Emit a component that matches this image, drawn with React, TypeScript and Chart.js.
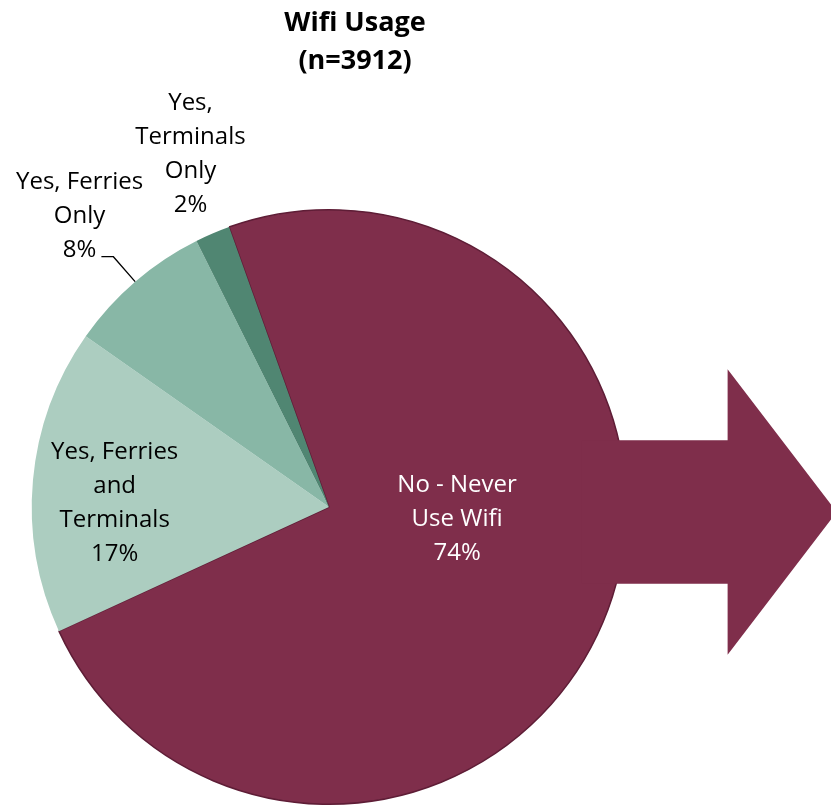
import React, { useEffect, useRef } from "react";
import { Chart, registerables } from "chart.js";

Chart.register(...registerables);

// ---- data ----
const categories = [
  "No - Never Use Wifi",
  "Yes, Ferries and Terminals",
  "Yes, Ferries Only",
  "Yes, Terminals Only",
];
const labelLines = [
  ["No - Never", "Use Wifi"],
  ["Yes, Ferries", "and", "Terminals"],
  ["Yes, Ferries", "Only"],
  ["Yes,", "Terminals", "Only"],
];
const shares = [73.6, 16.6, 7.9, 1.9];
const titleLines = ["Wifi Usage", "(n=3912)"];

// ---- styles ----
const sliceColors = ["#7F2E4B", "#ACCDC0", "#88B7A6", "#508672"];
const sliceBorderColors = ["#5E1D36", "#ACCDC0", "#88B7A6", "#508672"];
const sliceBorderWidths = [1.5, 0, 0, 0];
const labelColors = ["#FFFFFF", "#000000", "#000000", "#000000"];
// label block centre, as a fraction of the pie radius from the pie centre
const labelOffsets = [
  [0.431, 0.034],
  [-0.721, -0.018],
  [-0.839, -0.985],
  [-0.466, -1.191],
];
const leaderFor = [false, false, true, false];
const FONT = "'Open Sans', 'DejaVu Sans', sans-serif";

const decorPlugin = {
  id: "decor",
  afterDatasetsDraw(chart: any) {
    const ctx = chart.ctx as CanvasRenderingContext2D;
    const meta = chart.getDatasetMeta(0);
    const a0 = meta.data[0] as any;
    const cx = a0.x;
    const cy = a0.y;
    const r = a0.outerRadius;

    // arrow
    ctx.save();
    ctx.fillStyle = sliceColors[0];
    const ay = cy + 0.017 * r;
    const sh = 0.2416 * r;
    const hh = 0.48 * r;
    const sx = cx + 0.85 * r;
    const hx = cx + 1.341 * r;
    const tx = cx + 1.708 * r;
    ctx.beginPath();
    ctx.moveTo(sx, ay - sh);
    ctx.lineTo(hx, ay - sh);
    ctx.lineTo(hx, ay - hh);
    ctx.lineTo(tx, ay);
    ctx.lineTo(hx, ay + hh);
    ctx.lineTo(hx, ay + sh);
    ctx.lineTo(sx, ay + sh);
    ctx.closePath();
    ctx.fill();
    ctx.restore();

    // labels
    const total = shares.reduce((s, v) => s + v, 0);
    ctx.save();
    ctx.font = `24px ${FONT}`;
    ctx.textAlign = "center";
    ctx.textBaseline = "alphabetic";
    const lh = 34;
    shares.forEach((v, i) => {
      const pct = Math.round((v / total) * 100) + "%";
      const lines = [...labelLines[i], pct];
      const bx = cx + labelOffsets[i][0] * r;
      const by = cy + labelOffsets[i][1] * r;
      const n = lines.length;
      ctx.fillStyle = labelColors[i];
      let lastBase = 0;
      lines.forEach((t, j) => {
        const base = by + 8.5 + (j - (n - 1) / 2) * lh;
        ctx.fillText(t, bx, base);
        lastBase = base;
      });
      if (leaderFor[i]) {
        const arc = meta.data[i] as any;
        const mid = (arc.startAngle + arc.endAngle) / 2;
        const w = ctx.measureText(pct).width;
        const x0 = bx + w / 2 + 5;
        const x1 = x0 + 12;
        const ex = cx + Math.cos(mid) * r;
        const ey = cy + Math.sin(mid) * r;
        ctx.strokeStyle = "#000000";
        ctx.lineWidth = 1.3;
        ctx.beginPath();
        ctx.moveTo(x0, lastBase);
        ctx.lineTo(x1, lastBase);
        ctx.lineTo(ex, ey);
        ctx.stroke();
      }
    });
    ctx.restore();

    // title
    ctx.save();
    ctx.font = `bold 27px ${FONT}`;
    ctx.textAlign = "center";
    ctx.textBaseline = "alphabetic";
    ctx.fillStyle = "#000000";
    titleLines.forEach((t, j) => {
      ctx.fillText(t, 355, 30.5 + j * 38.5);
    });
    ctx.restore();
  },
};

export default function App() {
  const ref = useRef<HTMLCanvasElement | null>(null);
  useEffect(() => {
    if (!ref.current) return;
    const chart = new Chart(ref.current, {
      type: "pie",
      data: {
        labels: categories,
        datasets: [
          {
            data: shares,
            backgroundColor: sliceColors,
            borderColor: sliceBorderColors,
            borderWidth: sliceBorderWidths,
          },
        ],
      },
      options: {
        animation: false,
        responsive: false,
        rotation: -19.65,
        layout: { padding: { left: 31, right: 204, top: 209, bottom: 2 } },
        plugins: {
          legend: { display: false },
          tooltip: { enabled: false },
          title: { display: false },
        },
      },
      plugins: [decorPlugin],
    });
    return () => chart.destroy();
  }, []);
  return (
    <div style={{ position: "fixed", left: 0, top: 0, width: 831, height: 807, background: "#fff" }}>
      <canvas ref={ref} width={831} height={807} style={{ display: "block" }} />
    </div>
  );
}
